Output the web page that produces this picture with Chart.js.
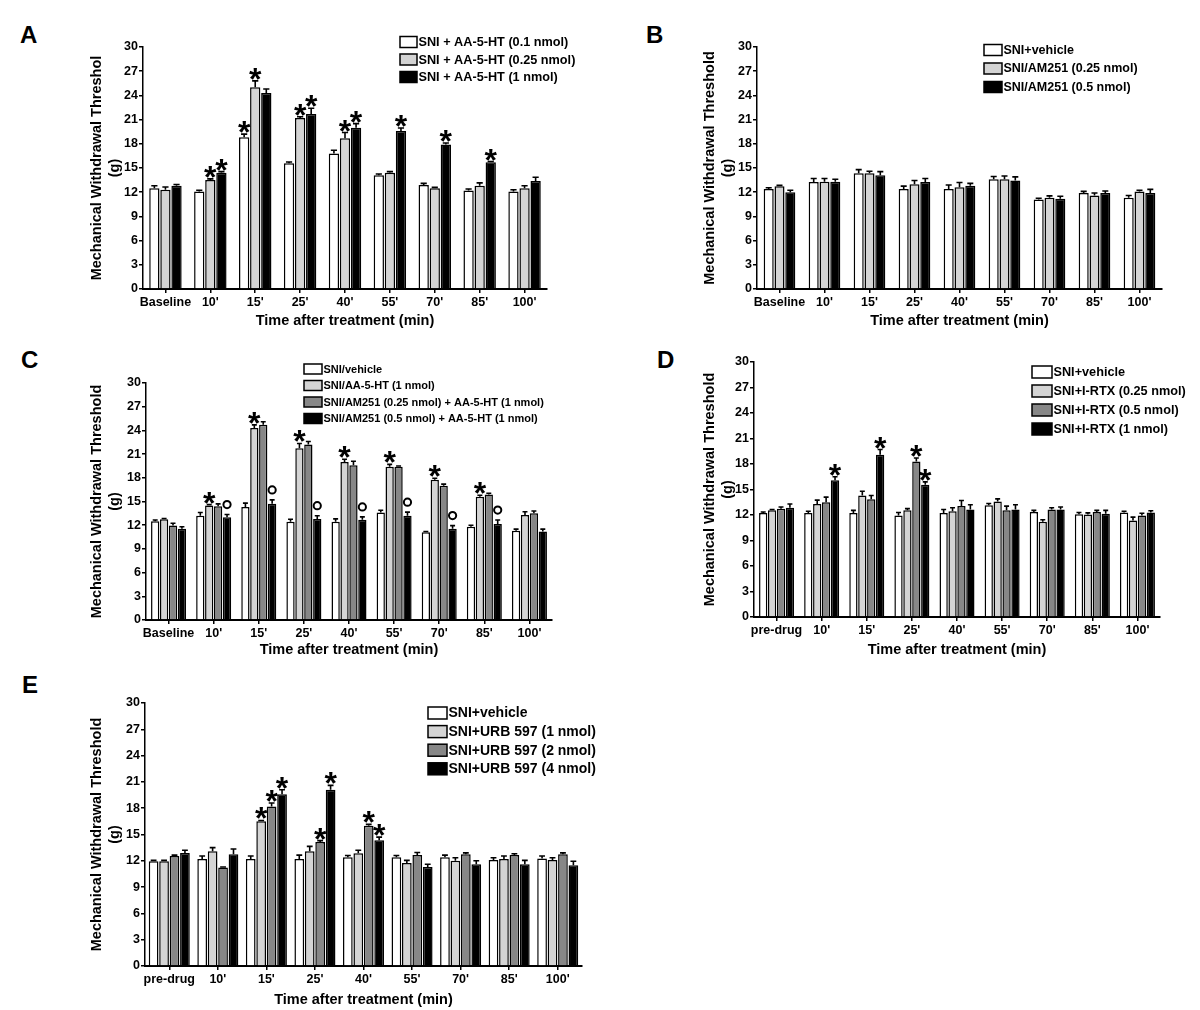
<!DOCTYPE html>
<html>
<head>
<meta charset="utf-8">
<script src="https://cdn.jsdelivr.net/npm/chart.js"></script>
<style>
  body { margin: 0; background: #fff; width: 1200px; height: 1010px; overflow: hidden; position: relative; }
  canvas { position: absolute; }
  .letter { position: absolute; font: bold 24px "Liberation Sans", Arial, sans-serif; line-height: 1; color: #000; }
</style>
</head>
<body>
<div class="letter" style="left:20px;top:23px">A</div>
<div class="letter" style="left:646px;top:23px">B</div>
<div class="letter" style="left:21px;top:348px">C</div>
<div class="letter" style="left:657px;top:348px">D</div>
<div class="letter" style="left:22px;top:673px">E</div>

<canvas id="panelA"></canvas>
<canvas id="panelB"></canvas>
<canvas id="panelC"></canvas>
<canvas id="panelD"></canvas>
<canvas id="panelE"></canvas>

<script>
// categories (time points)
const catsAC = ['Baseline', "10'", "15'", "25'", "40'", "55'", "70'", "85'", "100'"];
const catsDE = ['pre-drug', "10'", "15'", "25'", "40'", "55'", "70'", "85'", "100'"];

// panel A - AA-5-HT doses
const a01 = [12.5, 12.1, 18.8, 15.6, 16.8, 14.1, 12.9, 12.2, 12.1];
const a01Err = [0.3, 0.15, 0.4, 0.15, 0.4, 0.15, 0.2, 0.2, 0.2];
const a01Sig = ['', '', '*', '', '', '', '', '', ''];
const a025 = [12.3, 13.5, 25.0, 21.2, 18.7, 14.4, 12.5, 12.8, 12.5];
const a025Err = [0.35, 0.15, 0.8, 0.15, 0.7, 0.15, 0.1, 0.35, 0.3];
const a025Sig = ['', '*', '*', '*', '*', '', '', '', ''];
const a1 = [12.8, 14.4, 24.3, 21.7, 20.0, 19.6, 17.9, 15.7, 13.4];
const a1Err = [0.15, 0.15, 0.5, 0.7, 0.5, 0.35, 0.2, 0.1, 0.45];
const a1Sig = ['', '*', '', '*', '*', '*', '*', '*', ''];

// panel B - AM251 alone
const bVeh = [12.4, 13.25, 14.35, 12.4, 12.4, 13.6, 11.1, 11.9, 11.3];
const bVehErr = [0.15, 0.45, 0.45, 0.35, 0.5, 0.35, 0.15, 0.2, 0.3];
const b025 = [12.75, 13.3, 14.35, 13.0, 12.6, 13.6, 11.3, 11.6, 12.1];
const b025Err = [0.1, 0.4, 0.25, 0.45, 0.6, 0.4, 0.25, 0.3, 0.15];
const b05 = [12.0, 13.3, 14.1, 13.25, 12.8, 13.45, 11.2, 11.9, 11.9];
const b05Err = [0.25, 0.3, 0.45, 0.45, 0.3, 0.45, 0.3, 0.25, 0.45];

// panel C - AM251 + AA-5-HT
const cVeh = [12.5, 13.2, 14.3, 12.45, 12.45, 13.6, 11.1, 11.8, 11.3];
const cVehErr = [0.15, 0.4, 0.5, 0.3, 0.35, 0.3, 0.1, 0.2, 0.2];
const cAA = [12.75, 14.5, 24.3, 21.75, 20.0, 19.4, 17.75, 15.6, 13.3];
const cAAErr = [0.1, 0.1, 0.4, 0.6, 0.35, 0.3, 0.2, 0.2, 0.4];
const cAASig = ['', '*', '*', '*', '*', '*', '*', '*', ''];
const cAM025 = [11.95, 14.4, 24.7, 22.2, 19.6, 19.4, 17.0, 15.9, 13.5];
const cAM025Err = [0.3, 0.3, 0.4, 0.4, 0.5, 0.1, 0.2, 0.15, 0.3];
const cAM05 = [11.55, 13.0, 14.7, 12.8, 12.7, 13.2, 11.55, 12.15, 11.2];
const cAM05Err = [0.25, 0.35, 0.5, 0.4, 0.35, 0.45, 0.4, 0.5, 0.3];
const cAM05Sig = ['', 'o', 'o', 'o', 'o', 'o', 'o', 'o', ''];

// panel D - I-RTX
const dVeh = [12.25, 12.25, 12.25, 11.95, 12.25, 13.15, 12.35, 12.1, 12.3];
const dVehErr = [0.1, 0.2, 0.3, 0.35, 0.4, 0.2, 0.2, 0.2, 0.15];
const d025 = [12.55, 13.3, 14.3, 12.55, 12.45, 13.6, 11.2, 12.05, 11.35];
const d025Err = [0.1, 0.45, 0.5, 0.2, 0.4, 0.3, 0.25, 0.2, 0.4];
const d05 = [12.75, 13.5, 13.85, 18.3, 13.05, 12.55, 12.65, 12.35, 11.95];
const d05Err = [0.2, 0.6, 0.45, 0.4, 0.65, 0.5, 0.2, 0.2, 0.25];
const d05Sig = ['', '', '', '*', '', '', '', '', ''];
const d1 = [12.85, 16.1, 19.1, 15.55, 12.65, 12.65, 12.65, 12.15, 12.3];
const d1Err = [0.45, 0.4, 0.6, 0.35, 0.55, 0.55, 0.3, 0.4, 0.2];
const d1Sig = ['', '*', '*', '*', '', '', '', '', ''];

// panel E - URB 597
const eVeh = [11.95, 12.2, 12.2, 12.2, 12.4, 12.4, 12.4, 12.1, 12.25];
const eVehErr = [0.1, 0.35, 0.35, 0.45, 0.2, 0.2, 0.25, 0.25, 0.3];
const e1 = [11.95, 13.1, 16.5, 13.1, 12.85, 11.75, 12.0, 12.2, 12.1];
const e1Err = [0.1, 0.4, 0.1, 0.55, 0.35, 0.3, 0.35, 0.35, 0.25];
const e1Sig = ['', '', '*', '', '', '', '', '', ''];
const e2 = [12.55, 11.25, 18.2, 14.15, 16.0, 12.65, 12.75, 12.65, 12.75];
const e2Err = [0.1, 0.05, 0.4, 0.15, 0.15, 0.3, 0.15, 0.15, 0.15];
const e2Sig = ['', '', '*', '*', '*', '', '', '', ''];
const e4 = [12.9, 12.75, 19.6, 20.1, 14.35, 11.3, 11.6, 11.6, 11.5];
const e4Err = [0.3, 0.6, 0.5, 0.5, 0.35, 0.3, 0.4, 0.45, 0.45];
const e4Sig = ['', '', '*', '*', '*', '', '', '', ''];

const yTicks = [0, 3, 6, 9, 12, 15, 18, 21, 24, 27, 30];

const WHITE = '#ffffff', LIGHT = '#d4d4d4', DARK = '#878787', BLACK = '#000000';
const FONT = '"Liberation Sans", Arial, sans-serif';
Chart.defaults.font.family = FONT;
Chart.defaults.color = '#000';

// error bars + significance marks on top of each bar
const errorBars = {
  id: 'errorBars',
  afterDatasetsDraw(chart) {
    const ctx = chart.ctx;
    const y = chart.scales.y;
    chart.data.datasets.forEach((ds, i) => {
      const meta = chart.getDatasetMeta(i);
      meta.data.forEach((bar, j) => {
        const top = y.getPixelForValue(ds.data[j] + ds.err[j]);
        const x = bar.x;
        const half = bar.width * 0.3;
        ctx.save();
        ctx.strokeStyle = '#000';
        ctx.lineWidth = 1.6;
        ctx.beginPath();
        ctx.moveTo(x, bar.y);
        ctx.lineTo(x, top);
        ctx.moveTo(x - half, top);
        ctx.lineTo(x + half, top);
        ctx.stroke();
        const mark = ds.sig ? ds.sig[j] : '';
        if (mark === '*') {
          ctx.font = 'bold 32px ' + FONT;
          ctx.fillStyle = '#000';
          ctx.textAlign = 'center';
          ctx.textBaseline = 'alphabetic';
          const m = ctx.measureText('*');
          const cy = top - 7;
          ctx.fillText('*', x, cy - (m.actualBoundingBoxDescent - m.actualBoundingBoxAscent) / 2);
        } else if (mark === 'o') {
          ctx.lineWidth = 2;
          ctx.beginPath();
          ctx.arc(x, top - 10, 3.6, 0, Math.PI * 2);
          ctx.stroke();
        }
        ctx.restore();
      });
    });
  }
};

// boxed legend drawn at a fixed spot like the original figure
const boxLegend = {
  id: 'boxLegend',
  afterDraw(chart, args, opts) {
    const ctx = chart.ctx;
    ctx.save();
    ctx.font = 'bold ' + opts.size + 'px ' + FONT;
    ctx.textBaseline = 'middle';
    ctx.textAlign = 'left';
    chart.data.datasets.forEach((ds, i) => {
      const cy = opts.y + i * opts.gap;
      ctx.fillStyle = ds.backgroundColor;
      ctx.fillRect(opts.x, cy - opts.boxH / 2, opts.boxW, opts.boxH);
      ctx.strokeStyle = '#000';
      ctx.lineWidth = 1.5;
      ctx.strokeRect(opts.x, cy - opts.boxH / 2, opts.boxW, opts.boxH);
      ctx.fillStyle = '#000';
      ctx.fillText(ds.label, opts.x + opts.boxW + 1.5, cy + 0.5);
    });
    ctx.restore();
  }
};

function makePanel(id, frame, plot, labels, series, legend, yTitle, catPct) {
  const cv = document.getElementById(id);
  cv.width = frame.right - frame.left;
  cv.height = frame.bottom - frame.top;
  cv.style.left = frame.left + 'px';
  cv.style.top = frame.top + 'px';

  const datasets = series.map(s => ({
    label: s.label,
    data: s.data,
    err: s.err,
    sig: s.sig,
    backgroundColor: s.color,
    borderColor: '#000',
    borderWidth: 1.5,
    categoryPercentage: catPct,
    barPercentage: 0.93
  }));

  new Chart(cv, {
    type: 'bar',
    data: { labels: labels, datasets: datasets },
    options: {
      responsive: false,
      animation: false,
      events: [],
      layout: {
        padding: { left: 0, top: plot.top - frame.top, right: frame.right - plot.right, bottom: 0 }
      },
      plugins: {
        legend: { display: false },
        tooltip: { enabled: false },
        boxLegend: {
          x: legend.x - frame.left, y: legend.y - frame.top,
          gap: legend.gap, boxW: legend.boxW, boxH: legend.boxH, size: legend.size
        }
      },
      scales: {
        x: {
          afterFit: s => { s.height = frame.bottom - plot.bottom; },
          grid: { display: true, drawOnChartArea: false, offset: false, tickLength: 4, color: '#000', lineWidth: 1.5 },
          border: { display: true, color: '#000', width: 2 },
          ticks: { maxRotation: 0, autoSkip: false, padding: 2, font: { size: 12.5, weight: 'bold' }, color: '#000' },
          title: {
            display: true, text: 'Time after treatment (min)', color: '#000',
            font: { size: 14.5, weight: 'bold', lineHeight: 1.2 }, padding: 0
          }
        },
        y: {
          min: 0, max: 30,
          afterFit: s => { s.width = plot.left - frame.left; },
          afterBuildTicks: s => { s.ticks = yTicks.map(v => ({ value: v })); },
          grid: { display: true, drawOnChartArea: false, tickLength: 4, color: '#000', lineWidth: 1.5 },
          border: { display: true, color: '#000', width: 1.5 },
          ticks: { padding: 1, font: { size: 12.5, weight: 'bold' }, color: '#000' },
          title: {
            display: true, text: [yTitle, '(g)'], color: '#000',
            font: { size: 14.5, weight: 'bold', lineHeight: 1.25 }, padding: 0
          }
        }
      }
    },
    plugins: [errorBars, boxLegend]
  });
}

makePanel('panelA',
  { left: 88, top: 30, right: 600, bottom: 330 },
  { left: 143, top: 47, right: 547, bottom: 289 },
  catsAC,
  [
    { label: 'SNI + AA-5-HT (0.1 nmol)', data: a01, err: a01Err, sig: a01Sig, color: WHITE },
    { label: 'SNI + AA-5-HT (0.25 nmol)', data: a025, err: a025Err, sig: a025Sig, color: LIGHT },
    { label: 'SNI + AA-5-HT (1 nmol)', data: a1, err: a1Err, sig: a1Sig, color: BLACK }
  ],
  { x: 400, y: 42, gap: 17.5, boxW: 17, boxH: 11, size: 12.7 },
  'Mechanical Withdrawal Threshol', 0.74);

makePanel('panelB',
  { left: 701, top: 30, right: 1195, bottom: 330 },
  { left: 757, top: 47, right: 1162, bottom: 289 },
  catsAC,
  [
    { label: 'SNI+vehicle', data: bVeh, err: bVehErr, color: WHITE },
    { label: 'SNI/AM251 (0.25 nmol)', data: b025, err: b025Err, color: LIGHT },
    { label: 'SNI/AM251 (0.5 nmol)', data: b05, err: b05Err, color: BLACK }
  ],
  { x: 984, y: 50, gap: 18.5, boxW: 18, boxH: 11, size: 12.5 },
  'Mechanical Withdrawal Threshold', 0.72);

makePanel('panelC',
  { left: 88, top: 355, right: 600, bottom: 659 },
  { left: 146, top: 383, right: 552, bottom: 620 },
  catsAC,
  [
    { label: 'SNI/vehicle', data: cVeh, err: cVehErr, color: WHITE },
    { label: 'SNI/AA-5-HT (1 nmol)', data: cAA, err: cAAErr, sig: cAASig, color: LIGHT },
    { label: 'SNI/AM251 (0.25 nmol) + AA-5-HT (1 nmol)', data: cAM025, err: cAM025Err, color: DARK },
    { label: 'SNI/AM251 (0.5 nmol) + AA-5-HT (1 nmol)', data: cAM05, err: cAM05Err, sig: cAM05Sig, color: BLACK }
  ],
  { x: 304, y: 369, gap: 16.5, boxW: 18, boxH: 10, size: 11 },
  'Mechanical Withdrawal Threshold', 0.79);

makePanel('panelD',
  { left: 701, top: 345, right: 1195, bottom: 659 },
  { left: 754, top: 362, right: 1160, bottom: 617 },
  catsDE,
  [
    { label: 'SNI+vehicle', data: dVeh, err: dVehErr, color: WHITE },
    { label: 'SNI+I-RTX (0.25 nmol)', data: d025, err: d025Err, color: LIGHT },
    { label: 'SNI+I-RTX (0.5 nmol)', data: d05, err: d05Err, sig: d05Sig, color: DARK },
    { label: 'SNI+I-RTX (1 nmol)', data: d1, err: d1Err, sig: d1Sig, color: BLACK }
  ],
  { x: 1032, y: 372, gap: 19, boxW: 20, boxH: 12, size: 12.7 },
  'Mechanical Withdrawal Threshold', 0.79);

makePanel('panelE',
  { left: 88, top: 690, right: 610, bottom: 1009 },
  { left: 145, top: 703, right: 582, bottom: 966 },
  catsDE,
  [
    { label: 'SNI+vehicle', data: eVeh, err: eVehErr, color: WHITE },
    { label: 'SNI+URB 597 (1 nmol)', data: e1, err: e1Err, sig: e1Sig, color: LIGHT },
    { label: 'SNI+URB 597 (2 nmol)', data: e2, err: e2Err, sig: e2Sig, color: DARK },
    { label: 'SNI+URB 597 (4 nmol)', data: e4, err: e4Err, sig: e4Sig, color: BLACK }
  ],
  { x: 428, y: 713, gap: 18.6, boxW: 19, boxH: 12, size: 14 },
  'Mechanical Withdrawal Threshold', 0.86);
</script>
</body>
</html>
